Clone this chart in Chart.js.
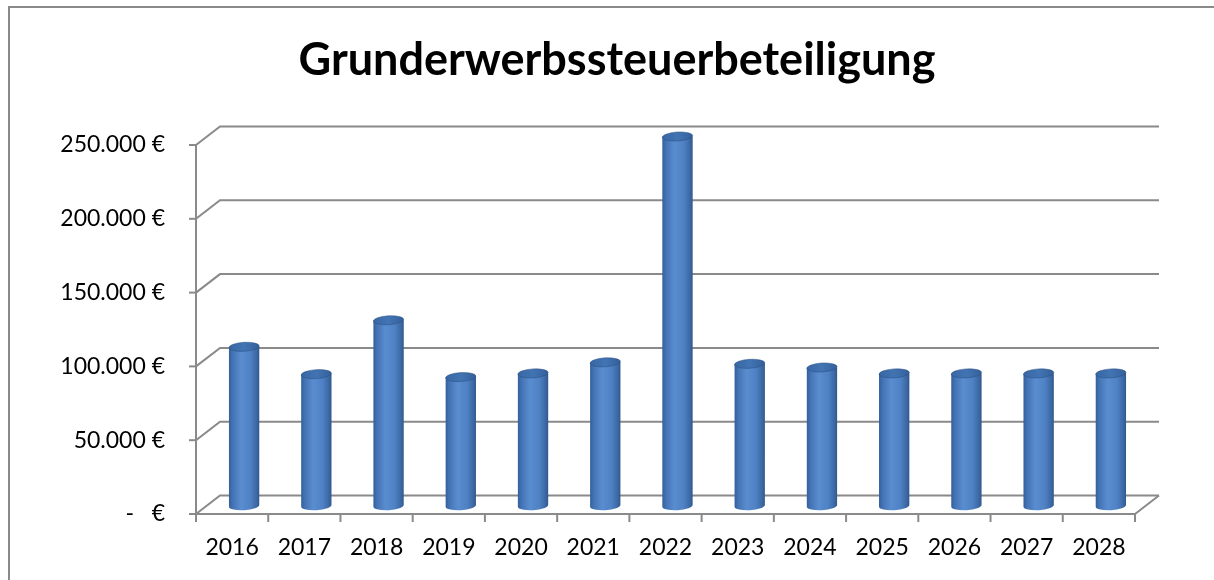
<!DOCTYPE html>
<html>
<head>
<meta charset="utf-8">
<script src="https://cdn.jsdelivr.net/npm/chart.js@4"></script>
<style>
  html, body { margin: 0; padding: 0; background: #fff; overflow: hidden; }
  #wrap { position: relative; width: 1214px; height: 580px; }
</style>
</head>
<body>
<div id="wrap"><canvas id="myChart"></canvas></div>
<script>
const years = ["2016", "2017", "2018", "2019", "2020", "2021", "2022", "2023", "2024", "2025", "2026", "2027", "2028"];
const beteiligung = [107000, 88500, 125000, 86500, 89000, 96500, 249500, 95500, 93000, 89000, 89000, 89000, 89000];
const tickValues = [0, 50000, 100000, 150000, 200000, 250000];
const tickLabels = ["-   €", "50.000 €", "100.000 €", "150.000 €", "200.000 €", "250.000 €"];

// Tiefe der 3D-Wand
const DX = 24, DY = 18.5;
const lineColor = "#8a8a8a";

const pseudo3d = {
  id: "pseudo3d",
  beforeDraw(chart) {
    const ctx = chart.ctx;
    ctx.save();
    ctx.strokeStyle = "#8a8a8a";
    ctx.lineWidth = 2;
    ctx.beginPath();
    ctx.moveTo(9, chart.height + 5);
    ctx.lineTo(9, 7);
    ctx.lineTo(chart.width + 5, 7);
    ctx.stroke();
    ctx.restore();
  },
  beforeDatasetsDraw(chart) {
    const ctx = chart.ctx;
    const a = chart.chartArea;
    const y = chart.scales.y;
    ctx.save();
    ctx.strokeStyle = lineColor;
    ctx.lineWidth = 2;
    ctx.lineCap = "butt";
    // Rückwand + Seitenwand
    tickValues.forEach(v => {
      const py = y.getPixelForValue(v);
      ctx.beginPath();
      ctx.moveTo(a.left, py);
      ctx.lineTo(a.left + DX, py - DY);
      ctx.lineTo(a.right + DX, py - DY);
      ctx.stroke();
      // Teilstrich links
      ctx.beginPath();
      ctx.moveTo(a.left - 7, py);
      ctx.lineTo(a.left, py);
      ctx.stroke();
    });
    // Boden
    const py0 = y.getPixelForValue(0);
    ctx.beginPath();
    ctx.moveTo(a.left, y.getPixelForValue(250000));
    ctx.lineTo(a.left, py0);
    ctx.lineTo(a.right, py0);
    ctx.lineTo(a.right + DX, py0 - DY);
    ctx.stroke();
    // Teilstriche unten
    const step = (a.right - a.left) / years.length;
    for (let i = 0; i <= years.length; i++) {
      const px = a.left + i * step;
      ctx.beginPath();
      ctx.moveTo(px, py0);
      ctx.lineTo(px, py0 + 8);
      ctx.stroke();
    }
    ctx.restore();
  },
  afterDatasetsDraw(chart) {
    const ctx = chart.ctx;
    const meta = chart.getDatasetMeta(0);
    meta.data.forEach(bar => {
      const w = bar.width;
      const rx = w / 2, ry = 4.5;
      const cx = bar.x + DX / 2;
      const top = bar.y - DY / 2;
      const base = bar.base - DY / 2 + 1;
      const rot = -0.06;
      ctx.save();
      const g = ctx.createLinearGradient(cx - rx, 0, cx + rx, 0);
      g.addColorStop(0, "#32609c");
      g.addColorStop(0.12, "#4473b4");
      g.addColorStop(0.4, "#5a8dd0");
      g.addColorStop(0.7, "#4f82c4");
      g.addColorStop(0.92, "#3b67a3");
      g.addColorStop(1, "#2f5788");
      ctx.fillStyle = g;
      ctx.beginPath();
      ctx.moveTo(cx - rx, top);
      ctx.lineTo(cx - rx, base);
      ctx.ellipse(cx, base, rx, ry, rot, Math.PI, 0, true);
      ctx.lineTo(cx + rx, top);
      ctx.closePath();
      ctx.fill();
      // Deckel
      const gt = ctx.createLinearGradient(cx - rx, 0, cx + rx, 0);
      gt.addColorStop(0, "#3867a3");
      gt.addColorStop(0.5, "#4274b3");
      gt.addColorStop(1, "#34609a");
      ctx.fillStyle = gt;
      ctx.beginPath();
      ctx.ellipse(cx, top, rx, ry, rot, 0, Math.PI * 2);
      ctx.fill();
      ctx.strokeStyle = "rgba(40,75,125,0.6)";
      ctx.lineWidth = 0.8;
      ctx.stroke();
      ctx.restore();
    });
  }
};

new Chart("myChart", {
  type: "bar",
  data: {
    labels: years,
    datasets: [{
      data: beteiligung,
      backgroundColor: "rgba(0,0,0,0)",
      borderWidth: 0,
      categoryPercentage: 1.0,
      barPercentage: 0.42
    }]
  },
  options: {
    responsive: true,
    maintainAspectRatio: false,
    animation: false,
    devicePixelRatio: 1,
    layout: { padding: { left: 20, right: 0, top: 0, bottom: 0 } },
    plugins: {
      legend: { display: false },
      tooltip: { enabled: false },
      title: {
        display: true,
        text: "Grunderwerbssteuerbeteiligung",
        color: "#000",
        font: { family: "Lato", size: 45, weight: "bold" },
        padding: { top: 33, bottom: 58 }
      }
    },
    scales: {
      x: {
        grid: { display: false, drawTicks: false },
        border: { display: false },
        ticks: {
          color: "#000",
          font: { family: "Lato", size: 23 },
          padding: 20,
          maxRotation: 0,
          autoSkip: false
        },
        afterFit: s => { s.height = 66; }
      },
      y: {
        min: 0,
        max: 250000,
        grid: { display: false, drawTicks: false },
        border: { display: false },
        afterBuildTicks: s => { s.ticks = tickValues.map(v => ({ value: v })); },
        ticks: {
          color: "#000",
          font: { family: "Lato", size: 23 },
          padding: 31,
          callback: v => tickLabels[tickValues.indexOf(v)]
        },
        afterFit: s => { s.width = 176; }
      },
      rechts: {
        position: "right",
        min: 0,
        max: 250000,
        grid: { display: false, drawTicks: false },
        border: { display: false },
        ticks: { display: false },
        afterFit: s => { s.width = 79; }
      }
    }
  },
  plugins: [pseudo3d]
});
</script>
</body>
</html>
